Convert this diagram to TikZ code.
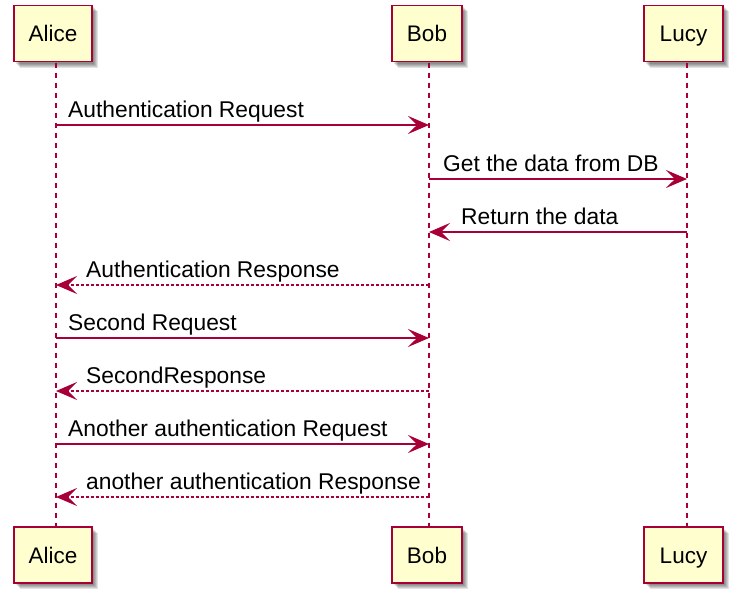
\documentclass[tikz,border=0pt]{standalone}
\usepackage{fontspec}
\setmainfont{Liberation Sans}
\usetikzlibrary{arrows.meta}
\definecolor{umlred}{HTML}{A80036}
\definecolor{umlfill}{HTML}{FEFECE}
\tikzset{
  participant/.style={draw=umlred, fill=umlfill, line width=1.8pt,
    minimum height=56pt, inner sep=0pt, text height=16pt, text depth=0pt,
    font=\fontsize{22.5}{26}\selectfont, text=black},
  lifeline/.style={draw=umlred, line width=1.2pt, dash pattern=on 5pt off 5pt},
  msg/.style={draw=umlred, line width=1.3pt,
    -{Stealth[length=21pt, width=18pt, inset=9pt]}},
  reply/.style={msg, dash pattern=on 3pt off 2pt},
  msglabel/.style={anchor=base west, inner sep=0pt,
    font=\fontsize{22.8}{26}\selectfont, text=black},
  shadowbox/.style={fill=black, opacity=0.11},
}
\begin{document}
\begin{tikzpicture}[x=1pt, y=-1pt]
\useasboundingbox (0,0) rectangle (740,600);
% shadows
\foreach \x/\y/\w/\h in {14/5/78/57, 392/5/70/57, 644/5/79/57, 14/527/78/56, 392/527/70/56, 644/527/79/56}{
  \foreach \d in {2,3,4,5,6}{
    \fill[shadowbox] (\x+\d,\y+\d) rectangle ++(\w,\h);
  }
}
% participants
\node[participant, minimum width=78pt] (aliceT) at (53,33.5) {Alice};
\node[participant, minimum width=70pt] (bobT) at (427,33.5) {Bob};
\node[participant, minimum width=79pt] (lucyT) at (683.5,33.5) {Lucy};
\node[participant, minimum width=78pt] (aliceB) at (53,555) {Alice};
\node[participant, minimum width=70pt] (bobB) at (427,555) {Bob};
\node[participant, minimum width=79pt] (lucyB) at (683.5,555) {Lucy};
% lifeline ends
\coordinate (aTop) at (56,62.5);
\coordinate (aBot) at (56,526.5);
\coordinate (bTop) at (429,62.5);
\coordinate (bBot) at (429,526.5);
\coordinate (lTop) at (687,62.5);
\coordinate (lBot) at (687,526.5);
\draw[lifeline] (aTop) -- (aBot);
\draw[lifeline] (bTop) -- (bBot);
\draw[lifeline] (lTop) -- (lBot);
% message endpoints
\foreach \i/\y in {1/125,2/179,3/232,4/285,5/338,6/391,7/444,8/497}{
  \coordinate (a\i) at (56,\y);
  \coordinate (b\i) at (429,\y);
  \coordinate (l\i) at (687,\y);
}
% messages
\draw[msg] (a1) -- (b1);
\node[msglabel] (t1) at (68,117) {Authentication Request};
\draw[msg] (b2) -- (l2);
\node[msglabel] (t2) at (443,171) {Get the data from DB};
\draw[msg] (l3) -- (b3);
\node[msglabel] (t3) at (461,224) {Return the data};
\draw[reply] (b4) -- (a4);
\node[msglabel] (t4) at (86,277) {Authentication Response};
\draw[msg] (a5) -- (b5);
\node[msglabel] (t5) at (68,330) {Second Request};
\draw[reply] (b6) -- (a6);
\node[msglabel] (t6) at (86,383) {SecondResponse};
\draw[msg] (a7) -- (b7);
\node[msglabel] (t7) at (68,436) {Another authentication Request};
\draw[reply] (b8) -- (a8);
\node[msglabel] (t8) at (86,489) {another authentication Response};
\end{tikzpicture}
\end{document}
